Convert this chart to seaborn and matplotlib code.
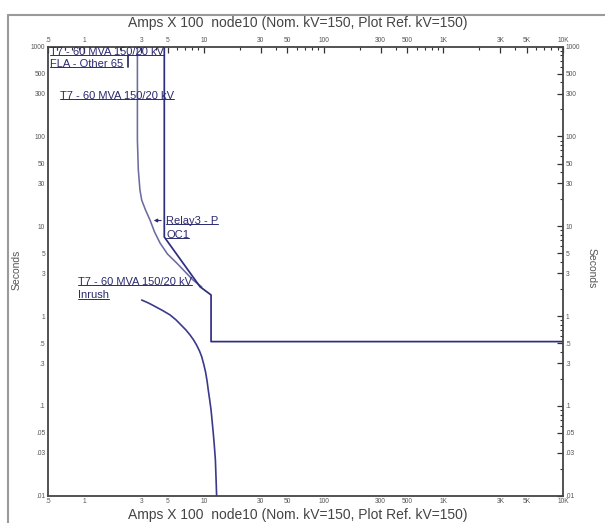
import matplotlib
matplotlib.use("Agg")
import matplotlib.pyplot as plt
import seaborn as sns
from matplotlib.lines import Line2D
from matplotlib.ticker import FixedLocator, FixedFormatter, NullFormatter

# Axis tick values and labels (current in Amps x 100, time in seconds)
x_ticks = [0.5, 1, 3, 5, 10, 30, 50, 100, 300, 500, 1000, 3000, 5000, 10000]
x_tick_labels = [".5", "1", "3", "5", "10", "30", "50", "100", "300", "500",
                 "1K", "3K", "5K", "10K"]
y_ticks = [0.01, 0.03, 0.05, 0.1, 0.3, 0.5, 1, 3, 5, 10, 30, 50, 100, 300, 500, 1000]
y_tick_labels = [".01", ".03", ".05", ".1", ".3", ".5", "1", "3", "5", "10",
                 "30", "50", "100", "300", "500", "1000"]

# Relay3 - P OC1 inverse-time characteristic
relay_amps = [2.79, 2.79, 2.84, 2.93, 3.03, 3.26, 3.56, 3.88, 4.31, 4.97, 5.94, 8.14, 9.61]
relay_secs = [1000, 91.4, 42.4, 25.4, 19.6, 15.2, 11.7, 8.64, 6.52, 4.92, 3.90, 2.52, 2.11]

# T7 - 60 MVA 150/20 kV characteristic with definite-time step
step_amps = [4.68, 4.68, 9.31, 11.5, 11.5, 10000]
step_secs = [1000, 7.6, 2.12, 1.72, 0.52, 0.52]

# T7 inrush curve
inrush_amps = [3.03, 3.45, 3.92, 4.55, 5.23, 5.85, 6.46, 7.10, 7.68, 8.20, 8.70,
               9.20, 9.61, 10.0, 10.35, 10.65, 10.9, 11.2, 11.5, 11.75, 12.0,
               12.25, 12.5, 12.65, 12.8]
inrush_secs = [1.51, 1.40, 1.28, 1.15, 1.03, 0.91, 0.796, 0.70, 0.616, 0.545, 0.477,
               0.41, 0.353, 0.29, 0.238, 0.19, 0.150, 0.117, 0.090, 0.067, 0.0499,
               0.036, 0.025, 0.016, 0.01]

# Full-load-amps marker
fla_amps = [2.32, 2.32]
fla_secs = [800, 600]

sns.set_theme(style="white")
plt.rcParams["font.family"] = ["Liberation Sans", "DejaVu Sans"]

W, H = 605, 523
fig = plt.figure(figsize=(W / 100, H / 100), dpi=100)
ax = fig.add_axes([48 / W, 1 - 495.7 / H, (563 - 48) / W, (495.7 - 46.7) / H])

navy = "#2e2e80"
light = "#6c6ca4"
sns.lineplot(x=relay_amps, y=relay_secs, sort=False, estimator=None, ax=ax,
             color=light, lw=1.15)
sns.lineplot(x=step_amps, y=step_secs, sort=False, estimator=None, ax=ax,
             color=navy, lw=1.25)
sns.lineplot(x=inrush_amps, y=inrush_secs, sort=False, estimator=None, ax=ax,
             color="#3a3a8c", lw=1.2)
sns.lineplot(x=fla_amps, y=fla_secs, sort=False, estimator=None, ax=ax,
             color="#222255", lw=1.2)

ax.set_xscale("log")
ax.set_yscale("log")
ax.set_xlim(0.5, 10000)
ax.set_ylim(0.01, 1000)

minor_x = [m * 10 ** e for e in range(-1, 4) for m in (2, 4, 6, 7, 8, 9)
           if 0.5 < m * 10 ** e < 10000] + [0.6, 0.7, 0.8, 0.9]
minor_y = [m * 10 ** e for e in range(-2, 3) for m in (2, 4, 6, 7, 8, 9)]
ax.xaxis.set_major_locator(FixedLocator(x_ticks))
ax.xaxis.set_major_formatter(FixedFormatter(x_tick_labels))
ax.xaxis.set_minor_locator(FixedLocator(sorted(set(minor_x))))
ax.xaxis.set_minor_formatter(NullFormatter())
ax.yaxis.set_major_locator(FixedLocator(y_ticks))
ax.yaxis.set_major_formatter(FixedFormatter(y_tick_labels))
ax.yaxis.set_minor_locator(FixedLocator(minor_y))
ax.yaxis.set_minor_formatter(NullFormatter())

ax.tick_params(which="both", direction="in", top=True, right=True,
               labeltop=True, labelright=True, labelsize=4.8,
               labelcolor="#555555", color="#333333", pad=2)
ax.tick_params(which="major", length=4, width=0.9)
ax.tick_params(which="minor", length=2.5, width=0.8)
for s in ax.spines.values():
    s.set_color("#444444")
    s.set_linewidth(1.3)

title = "Amps X 100  node10 (Nom. kV=150, Plot Ref. kV=150)"
fig.text(298 / W, 1 - 23 / H, title, ha="center", va="center",
         fontsize=10, color="#444444")
fig.text(298 / W, 1 - 515 / H, title, ha="center", va="center",
         fontsize=10, color="#444444")
fig.text(17 / W, 1 - 270 / H, "Seconds", rotation=90, ha="center", va="center",
         fontsize=7.5, color="#555555")
fig.text(592 / W, 1 - 268 / H, "Seconds", rotation=270, ha="center", va="center",
         fontsize=7.5, color="#555555")

label_color = "#2a2a70"
labels = [
    (0.519, 880, "T7 - 60 MVA 150/20 kV"),
    (0.519, 640, "FLA - Other 65"),
    (0.630, 282, "T7 - 60 MVA 150/20 kV"),
    (4.84, 11.6, "Relay3 - P"),
    (4.84, 8.1, "OC1"),
    (0.89, 2.42, "T7 - 60 MVA 150/20 kV"),
    (0.89, 1.70, "Inrush"),
]
texts = [ax.text(x, y, s, ha="left", va="center", fontsize=8,
                 color=label_color) for x, y, s in labels]

ax.annotate("", xy=(3.62, 11.6), xytext=(4.65, 11.6),
            arrowprops=dict(arrowstyle="-|>", color=label_color, lw=0.8,
                            mutation_scale=5))

# Underline each annotation label
fig.canvas.draw()
renderer = fig.canvas.get_renderer()
inv = fig.transFigure.inverted()
for t in texts:
    bb = t.get_window_extent(renderer)
    (x0, y0), (x1, _) = inv.transform([(bb.x0, bb.y0 + 1.8), (bb.x1, bb.y0 + 1.8)])
    fig.add_artist(Line2D([x0, x1], [y0, y0], transform=fig.transFigure,
                          color=label_color, lw=0.7))

# Window frame lines
fig.add_artist(Line2D([8 / W, 8 / W], [0, 1 - 15 / H], transform=fig.transFigure,
                      color="#9a9a9a", lw=1.5))
fig.add_artist(Line2D([8 / W, 1], [1 - 15 / H, 1 - 15 / H], transform=fig.transFigure,
                      color="#9a9a9a", lw=1.5))

fig.savefig("out.png", dpi=100)
